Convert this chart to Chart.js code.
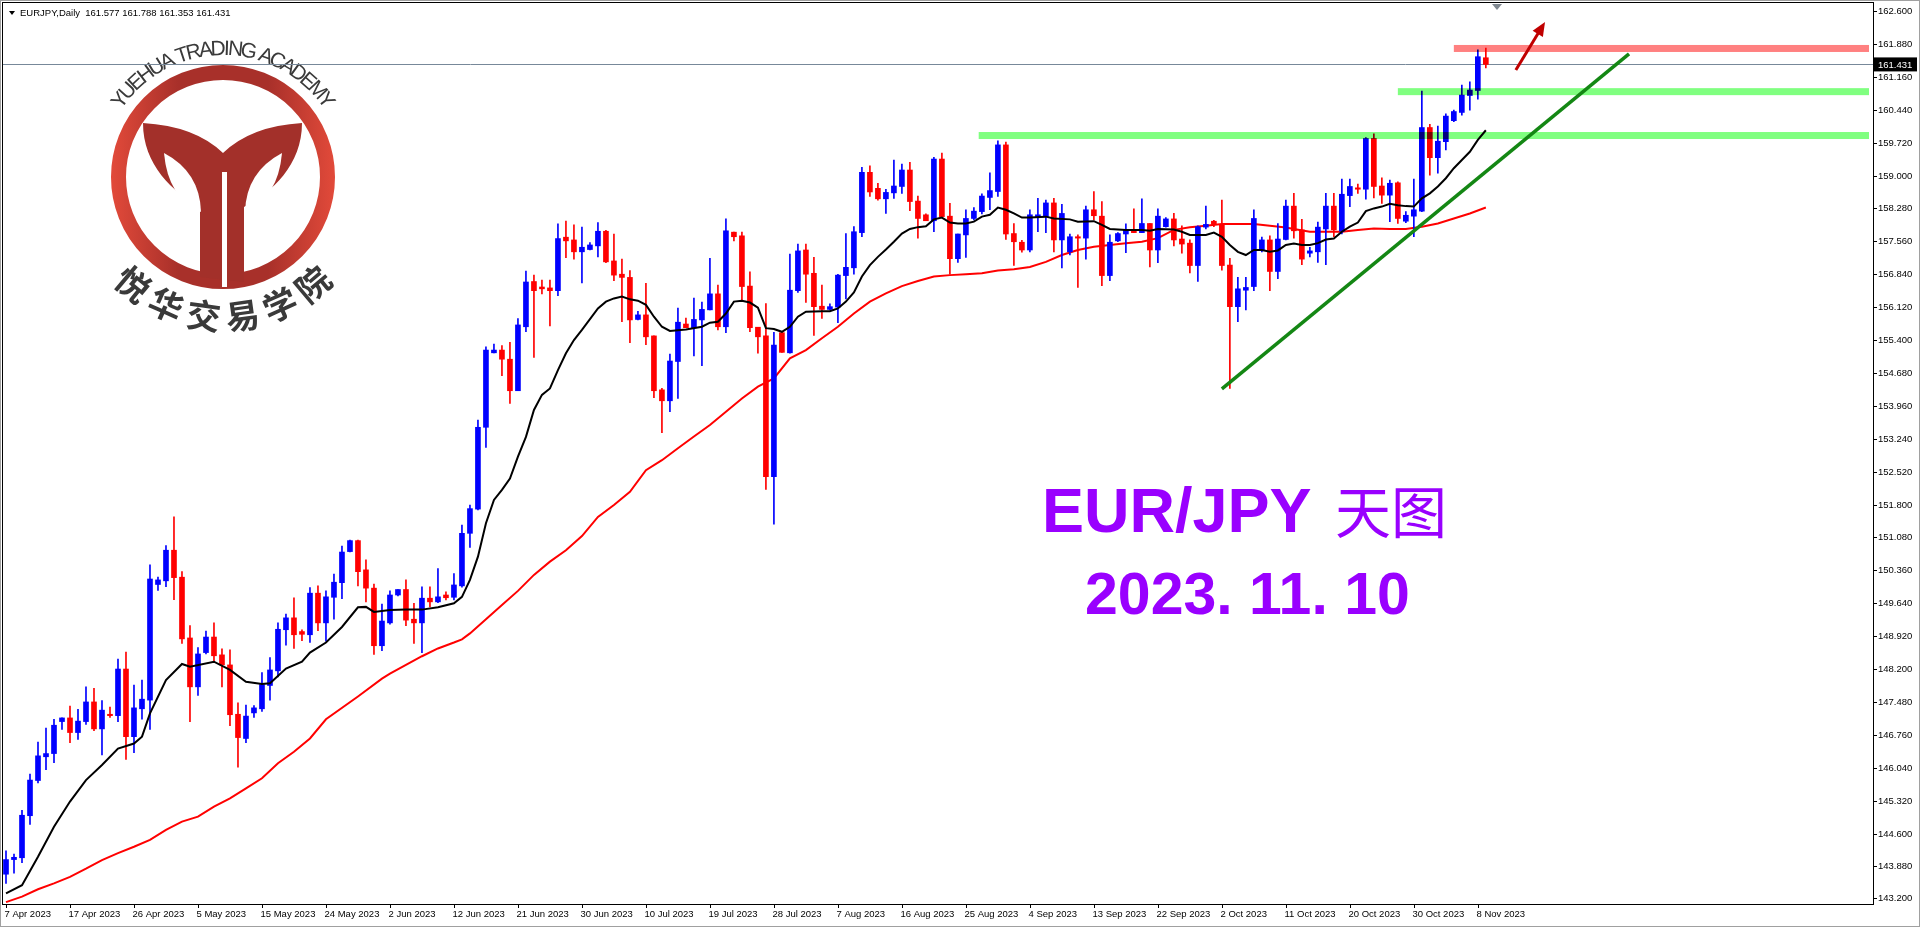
<!DOCTYPE html>
<html>
<head>
<meta charset="UTF-8">
<title>EURJPY Daily</title>
<script src="https://cdn.jsdelivr.net/npm/chart.js"></script>
<style>
  html, body { margin: 0; padding: 0; background: #fff; }
  canvas { display: block; }
</style>
</head>
<body>
<canvas id="chart" width="1920" height="927"></canvas>
<script>
// EURJPY daily candles (one bar per trading day incl. Sunday bars)
const opens = [143.71,144.03,144.07,144.99,145.76,146.28,146.35,147.05,147.13,146.81,147.05,147.48,146.89,147.21,147.18,148.20,146.72,147.33,147.52,150.05,150.13,150.80,150.21,148.88,147.81,148.56,148.90,148.51,148.29,147.21,146.68,147.24,147.33,147.84,148.16,149.06,149.32,149.02,148.95,149.86,149.21,149.77,150.09,150.77,151.01,150.37,149.97,148.71,149.21,149.82,149.94,149.29,149.21,149.75,149.67,149.82,149.77,150.02,151.17,151.70,153.49,155.12,155.18,154.98,154.29,155.69,156.68,156.56,156.54,156.48,157.65,157.59,157.33,157.38,157.46,157.78,157.13,156.84,156.77,155.85,155.95,155.49,154.31,154.07,154.93,155.75,155.67,155.84,156.06,156.41,155.69,157.76,157.68,156.58,155.68,155.49,152.41,155.56,155.12,156.48,157.37,156.86,156.14,156.07,156.12,156.81,156.98,157.75,159.07,158.72,158.49,158.62,158.76,159.12,158.44,158.14,158.01,159.36,158.11,157.18,157.70,158.06,158.21,158.52,158.65,159.67,157.73,157.54,157.37,158.10,158.10,158.40,157.59,157.33,157.66,157.63,158.25,158.11,156.81,157.57,157.72,157.81,157.75,157.95,157.37,157.88,158.05,157.61,157.52,157.03,157.87,158.00,157.93,157.04,156.13,156.49,156.57,157.37,157.59,156.90,157.60,158.33,157.81,157.30,157.33,157.83,158.33,157.78,158.56,158.73,158.70,159.81,158.77,158.57,158.84,158.00,158.11,158.22,160.05,159.39,159.74,160.20,160.38,160.75,160.86,161.577];
const highs = [144.22,144.15,145.11,145.90,146.60,146.91,147.10,147.13,147.39,147.32,147.81,147.78,147.51,147.37,148.42,148.57,147.85,147.96,150.48,150.21,150.90,151.53,150.33,149.15,148.67,149.03,149.21,148.64,148.62,147.46,147.41,147.40,148.12,148.45,149.21,149.40,149.76,149.06,149.98,150.02,149.91,150.28,150.89,151.02,151.02,150.59,150.06,149.62,149.91,149.94,150.15,149.64,150.00,150.00,150.40,149.89,150.29,151.35,151.79,153.65,155.25,155.31,155.28,155.35,155.87,156.91,156.82,156.71,156.71,157.94,158.00,157.92,157.87,157.53,157.97,157.80,157.72,157.17,156.92,156.03,156.64,155.49,154.34,155.09,156.10,155.88,156.32,156.23,157.19,156.60,158.05,157.76,157.76,156.89,155.68,156.20,155.57,155.58,157.28,157.50,157.50,157.21,156.60,156.19,156.84,157.73,157.88,159.18,159.21,158.83,158.70,159.34,159.25,159.29,158.55,158.16,159.40,159.49,158.39,157.72,158.25,158.30,158.60,159.06,159.76,159.73,157.95,157.58,158.25,158.50,158.46,158.50,158.37,157.72,157.70,158.33,158.65,158.43,157.70,157.75,157.94,158.27,158.49,157.95,158.27,158.08,158.17,157.90,157.59,157.90,158.33,158.02,158.46,157.19,156.77,156.77,158.25,157.65,157.68,157.95,158.46,158.61,158.04,157.43,157.98,158.61,158.61,158.92,158.92,158.81,159.83,159.91,158.95,158.90,158.86,158.21,158.92,160.85,160.12,160.08,160.35,160.43,160.98,161.05,161.75,161.788];
const lows = [143.51,143.73,143.96,144.80,145.71,146.00,146.15,146.88,146.59,146.66,146.99,146.85,146.32,147.14,147.05,146.22,146.37,147.10,146.88,149.92,150.00,149.72,148.76,147.05,147.62,148.53,148.35,147.81,146.96,146.05,146.59,147.14,147.27,147.52,148.03,148.72,148.65,148.82,148.78,149.04,148.81,149.29,149.74,150.76,150.02,149.67,148.52,148.60,149.18,149.80,149.15,148.76,148.56,149.56,149.65,149.71,149.71,149.99,150.86,151.68,153.05,155.12,154.62,154.01,154.29,155.58,155.02,156.41,155.71,156.37,157.20,157.17,156.65,157.37,157.22,157.09,156.70,155.80,155.34,155.84,155.30,154.14,153.37,153.83,154.12,155.67,155.05,154.84,156.06,155.62,155.56,157.57,156.27,155.58,155.11,152.13,151.37,155.13,155.11,156.44,156.22,155.50,155.87,156.06,155.78,156.30,156.84,157.66,158.54,158.46,158.17,158.50,158.61,158.23,157.63,158.01,157.77,158.10,156.84,157.10,157.21,158.03,158.16,158.25,158.54,157.60,157.03,157.32,157.33,157.77,157.75,157.33,156.98,157.26,156.55,157.17,158.03,156.59,156.70,157.55,157.31,157.75,157.75,157.00,157.09,157.87,157.46,157.30,156.87,156.68,157.83,157.88,156.93,154.34,155.80,156.06,156.48,157.33,156.48,156.74,157.59,157.63,157.05,157.22,157.10,157.05,157.66,157.72,158.32,158.61,158.48,158.51,158.39,157.99,157.95,157.97,157.66,158.21,159.01,159.05,159.56,160.18,160.32,160.43,160.67,161.353];
const closes = [144.03,144.08,145.00,145.77,146.30,146.35,146.97,147.13,146.81,147.06,147.48,146.89,147.30,147.18,148.20,146.72,147.35,147.54,150.17,150.15,150.80,150.20,148.86,147.81,148.53,148.90,148.49,148.29,147.20,146.70,147.17,147.35,147.86,148.18,149.07,149.32,148.95,148.96,149.86,149.21,149.78,150.10,150.76,151.01,150.33,149.97,148.71,149.25,149.82,149.94,149.27,149.21,149.75,149.67,149.78,149.76,150.04,151.17,151.71,153.49,155.18,155.18,154.98,154.29,155.73,156.67,156.48,156.52,156.48,157.62,157.57,157.33,157.43,157.48,157.78,157.11,156.82,156.77,155.84,155.95,155.47,154.29,154.07,154.94,155.79,155.67,155.85,156.07,156.41,155.69,157.79,157.66,156.57,155.67,155.47,152.41,155.29,155.13,156.49,157.35,156.84,156.13,156.07,156.13,156.82,156.99,157.77,159.07,158.64,158.49,158.63,158.77,159.12,158.43,158.06,158.01,159.36,158.10,157.18,157.72,158.06,158.22,158.55,158.67,159.67,157.72,157.55,157.37,158.14,158.14,158.40,157.59,158.17,157.66,157.63,158.25,158.12,156.81,157.54,157.73,157.81,157.75,157.95,157.37,158.11,158.05,157.59,157.50,157.03,157.88,157.93,157.93,157.03,156.13,156.52,156.55,158.06,157.59,156.90,157.61,158.33,157.79,157.17,157.35,157.87,158.33,157.81,158.59,158.76,158.70,159.81,158.76,158.57,158.83,158.06,158.13,158.25,160.05,159.39,159.75,160.30,160.40,160.76,160.87,161.60,161.431];

// tick labels
const dateLabels = ['7 Apr 2023','17 Apr 2023','26 Apr 2023','5 May 2023','15 May 2023','24 May 2023','2 Jun 2023','12 Jun 2023','21 Jun 2023','30 Jun 2023','10 Jul 2023','19 Jul 2023','28 Jul 2023','7 Aug 2023','16 Aug 2023','25 Aug 2023','4 Sep 2023','13 Sep 2023','22 Sep 2023','2 Oct 2023','11 Oct 2023','20 Oct 2023','30 Oct 2023','8 Nov 2023'];
const barsPerLabel = 8;
const priceTicks = [162.6,161.88,161.16,160.44,159.72,159.0,158.28,157.56,156.84,156.12,155.4,154.68,153.96,153.24,152.52,151.8,151.08,150.36,149.64,148.92,148.2,147.48,146.76,146.04,145.32,144.6,143.88,143.2];

// moving averages: [bar, value]
const maBlack = [[0,143.29],[2,143.47],[4,144.09],[6,144.75],[8,145.30],[10,145.77],[12,146.10],[14,146.46],[16,146.57],[17,146.72],[18,147.23],[20,147.96],[22,148.31],[23,148.25],[26,148.36],[28,148.18],[30,147.92],[32,147.87],[33,147.89],[35,148.21],[37,148.36],[38,148.56],[40,148.78],[42,149.12],[44,149.55],[45,149.56],[46,149.45],[48,149.49],[50,149.50],[52,149.50],[54,149.55],[56,149.64],[57,149.78],[58,150.15],[59,150.66],[60,151.39],[61,151.90],[62,152.12],[63,152.37],[64,152.85],[65,153.28],[66,153.87],[67,154.20],[68,154.34],[69,154.74],[70,155.11],[71,155.40],[72,155.62],[74,156.09],[75,156.24],[76,156.31],[77,156.35],[78,156.29],[79,156.26],[80,156.17],[81,155.91],[82,155.69],[83,155.60],[85,155.63],[87,155.69],[88,155.78],[89,155.80],[90,155.98],[91,156.24],[92,156.26],[93,156.22],[94,156.11],[95,155.66],[96,155.64],[97,155.58],[98,155.69],[99,155.91],[100,156.02],[102,156.03],[103,156.03],[104,156.09],[105,156.24],[106,156.44],[107,156.79],[108,157.04],[109,157.22],[110,157.38],[111,157.55],[112,157.73],[113,157.83],[114,157.87],[115,157.89],[116,158.04],[117,158.08],[118,157.97],[119,157.95],[120,157.95],[121,157.99],[122,158.10],[123,158.14],[124,158.30],[125,158.25],[126,158.17],[127,158.08],[128,158.08],[130,158.10],[131,158.06],[133,158.04],[134,157.99],[136,158.00],[137,157.92],[138,157.83],[140,157.81],[142,157.81],[143,157.79],[144,157.83],[146,157.82],[147,157.77],[148,157.70],[150,157.70],[151,157.75],[152,157.66],[153,157.48],[154,157.33],[155,157.26],[156,157.37],[157,157.37],[158,157.33],[159,157.36],[160,157.48],[161,157.51],[162,157.48],[163,157.48],[164,157.52],[165,157.60],[166,157.62],[167,157.77],[168,157.88],[169,157.97],[170,158.22],[171,158.28],[172,158.32],[173,158.38],[174,158.35],[175,158.33],[176,158.32],[177,158.50],[178,158.61],[179,158.76],[180,158.94],[181,159.16],[182,159.34],[183,159.52],[184,159.78],[185,159.99]];
const maRed = [[0,143.10],[2,143.22],[4,143.38],[6,143.51],[8,143.65],[10,143.83],[12,144.02],[14,144.17],[16,144.31],[18,144.46],[20,144.68],[22,144.86],[24,144.97],[26,145.19],[28,145.37],[30,145.59],[32,145.81],[34,146.14],[36,146.39],[38,146.68],[40,147.10],[44,147.60],[47,147.99],[48,148.10],[50,148.29],[52,148.48],[54,148.65],[56,148.78],[57,148.85],[58,148.98],[60,149.29],[62,149.60],[64,149.91],[66,150.26],[68,150.55],[70,150.80],[72,151.11],[74,151.53],[76,151.79],[78,152.08],[80,152.55],[82,152.77],[84,153.03],[86,153.29],[88,153.54],[90,153.83],[92,154.12],[94,154.38],[96,154.56],[98,155.00],[100,155.18],[102,155.44],[104,155.69],[106,155.98],[108,156.24],[110,156.42],[112,156.58],[114,156.69],[116,156.79],[118,156.82],[120,156.84],[122,156.86],[124,156.92],[126,156.95],[128,157.00],[130,157.11],[132,157.26],[134,157.37],[136,157.44],[138,157.48],[140,157.52],[142,157.55],[144,157.63],[146,157.81],[148,157.87],[150,157.90],[152,157.94],[154,157.94],[156,157.94],[158,157.90],[160,157.86],[161,157.83],[163,157.77],[165,157.77],[167,157.77],[169,157.81],[171,157.84],[173,157.83],[175,157.83],[177,157.88],[179,157.95],[181,158.06],[183,158.17],[185,158.30]];

// drawn objects: levels [price, fromBar, colour], trend line, arrow
const levels = [[161.78, 181, '#ff8080'], [160.835, 174, '#80ff80'], [159.875, 121.6, '#80ff80']];
const trendLine = [[152, 154.33], [202.9, 161.66]];
const arrowLine = [[188.75, 161.31], [192.4, 162.36]];
const lastPrice = 161.431;

const nBars = closes.length;
const up = i => closes[i] >= opens[i];
const colors = closes.map((c, i) => up(i) ? '#0000ff' : '#ff0000');
const axisFont = '9.5px "Liberation Sans", Arial, sans-serif';

const chartOverlay = {
  id: 'chartOverlay',
  beforeDatasetsDraw(chart) {
    const ctx = chart.ctx, y = chart.scales.y, a = chart.chartArea;
    ctx.save();
    drawLogo(ctx);
    // last price line
    const py = Math.round(y.getPixelForValue(lastPrice)) + 0.5;
    ctx.strokeStyle = '#778899';
    ctx.lineWidth = 1;
    ctx.beginPath(); ctx.moveTo(a.left, py); ctx.lineTo(a.right, py); ctx.stroke();
    ctx.restore();
  },
  afterDatasetsDraw(chart) {
    const ctx = chart.ctx, x = chart.scales.x, y = chart.scales.y, a = chart.chartArea;
    ctx.save();
    ctx.beginPath(); ctx.rect(a.left, a.top, a.right - a.left, a.bottom - a.top); ctx.clip();
    // levels
    ctx.globalCompositeOperation = 'multiply';
    levels.forEach(([p, from, col]) => {
      ctx.fillStyle = col;
      const yy = y.getPixelForValue(p);
      ctx.fillRect(x.getPixelForValue(from), yy - 3.5, a.right - 4 - x.getPixelForValue(from), 7);
    });
    ctx.globalCompositeOperation = 'source-over';
    // trend line
    ctx.strokeStyle = 'rgb(20,135,20)';
    ctx.lineWidth = 3.5;
    ctx.beginPath();
    ctx.moveTo(x.getPixelForValue(trendLine[0][0]), y.getPixelForValue(trendLine[0][1]));
    ctx.lineTo(x.getPixelForValue(trendLine[1][0]), y.getPixelForValue(trendLine[1][1]));
    ctx.stroke();
    // arrow
    const ax0 = x.getPixelForValue(arrowLine[0][0]), ay0 = y.getPixelForValue(arrowLine[0][1]);
    const ax1 = x.getPixelForValue(arrowLine[1][0]), ay1 = y.getPixelForValue(arrowLine[1][1]);
    const ang = Math.atan2(ay1 - ay0, ax1 - ax0);
    ctx.strokeStyle = '#c00000'; ctx.fillStyle = '#c00000'; ctx.lineWidth = 3;
    ctx.beginPath(); ctx.moveTo(ax0, ay0);
    ctx.lineTo(ax1 - 10 * Math.cos(ang), ay1 - 10 * Math.sin(ang)); ctx.stroke();
    ctx.beginPath(); ctx.moveTo(ax1, ay1);
    ctx.lineTo(ax1 - 14 * Math.cos(ang) + 6 * Math.sin(ang), ay1 - 14 * Math.sin(ang) - 6 * Math.cos(ang));
    ctx.lineTo(ax1 - 14 * Math.cos(ang) - 6 * Math.sin(ang), ay1 - 14 * Math.sin(ang) + 6 * Math.cos(ang));
    ctx.closePath(); ctx.fill();
    ctx.restore();
  },
  afterDraw(chart) {
    const ctx = chart.ctx, x = chart.scales.x, y = chart.scales.y, a = chart.chartArea;
    ctx.save();
    // frames
    ctx.strokeStyle = '#a0a0a0'; ctx.lineWidth = 1;
    ctx.strokeRect(0.5, 0.5, 1919, 926);
    ctx.strokeStyle = '#000';
    ctx.strokeRect(a.left - 0.5, a.top - 0.5, a.right - a.left + 1, a.bottom - a.top + 1);
    ctx.font = axisFont;
    ctx.fillStyle = '#000'; ctx.textAlign = 'left'; ctx.textBaseline = 'middle';
    // price ticks and labels
    priceTicks.forEach(v => {
      const py = Math.round(y.getPixelForValue(v)) + 0.5;
      ctx.beginPath(); ctx.moveTo(a.right, py); ctx.lineTo(a.right + 4, py); ctx.stroke();
      ctx.fillText(v.toFixed(3), a.right + 5, py);
    });
    // date ticks and labels
    dateLabels.forEach((lab, k) => {
      const px = Math.round(x.getPixelForValue(k * barsPerLabel)) + 0.5;
      ctx.beginPath(); ctx.moveTo(px, a.bottom); ctx.lineTo(px, a.bottom + 4); ctx.stroke();
      ctx.fillText(lab, px - 2, a.bottom + 10);
    });
    // header
    ctx.beginPath(); ctx.moveTo(9, 11); ctx.lineTo(15, 11); ctx.lineTo(12, 15); ctx.closePath(); ctx.fill();
    ctx.fillText('EURJPY,Daily  161.577 161.788 161.353 161.431', 20, 13);
    // last price box
    const py = y.getPixelForValue(lastPrice);
    ctx.fillStyle = '#000';
    ctx.fillRect(a.right + 1, py - 7, 43, 14);
    ctx.fillStyle = '#fff';
    ctx.fillText(lastPrice.toFixed(3), a.right + 5, py + 0.5);
    // shift marker
    ctx.fillStyle = '#808890';
    ctx.beginPath(); ctx.moveTo(1492, 4); ctx.lineTo(1502, 4); ctx.lineTo(1497, 10); ctx.closePath(); ctx.fill();
    // title text
    ctx.fillStyle = '#9900ff';
    ctx.textBaseline = 'alphabetic';
    ctx.font = 'bold 63px "Liberation Sans", Arial, sans-serif';
    ctx.fillText('EUR/JPY', 1042, 532);
    ctx.font = '56px "Noto Sans CJK SC", sans-serif';
    ctx.textBaseline = 'middle';
    ctx.fillText('天图', 1335, 512);
    ctx.textBaseline = 'alphabetic';
    ctx.font = 'bold 59px "Liberation Sans", Arial, sans-serif';
    ctx.fillText('2023. 11. 10', 1085, 614);
    ctx.restore();
  }
};

function drawLogo(ctx) {
  const cx = 223, cy = 177;
  ctx.save();
  const g = ctx.createLinearGradient(cx - 112, 0, cx + 112, 0);
  g.addColorStop(0, '#e24a3a'); g.addColorStop(0.3, '#a8302a'); g.addColorStop(0.7, '#a8302a'); g.addColorStop(1, '#e24a3a');
  ctx.strokeStyle = g; ctx.lineWidth = 15;
  ctx.beginPath(); ctx.arc(cx, cy, 104.5, 0, Math.PI * 2); ctx.stroke();
  // Y shape
  ctx.fillStyle = '#a3302a';
  ctx.beginPath();
  ctx.moveTo(143, 123);
  ctx.quadraticCurveTo(195, 126, 223, 153);
  ctx.quadraticCurveTo(251, 126, 302, 123);
  ctx.bezierCurveTo(302, 165, 272, 192, 244, 207);
  ctx.lineTo(244, 282); ctx.lineTo(200, 277); ctx.lineTo(200, 207);
  ctx.bezierCurveTo(173, 192, 143, 165, 143, 123);
  ctx.fill();
  ctx.fillStyle = '#fff';
  ctx.beginPath(); ctx.moveTo(164, 153); ctx.quadraticCurveTo(168, 198, 201, 212); ctx.quadraticCurveTo(200, 172, 164, 153); ctx.fill();
  ctx.beginPath(); ctx.moveTo(282, 153); ctx.quadraticCurveTo(278, 198, 245, 212); ctx.quadraticCurveTo(246, 172, 282, 153); ctx.fill();
  ctx.fillRect(222, 172, 5, 115);
  // arched texts
  ctx.fillStyle = '#3a3a3a';
  ctx.textAlign = 'center'; ctx.textBaseline = 'alphabetic';
  ctx.font = '21px "Liberation Sans", Arial, sans-serif';
  const top = 'YUEHUA TRADING ACADEMY';
  const ws = [...top].map(ch => ctx.measureText(ch).width);
  const total = ws.reduce((s, w) => s + w, 0);
  const a0 = -146 * Math.PI / 180, a1 = -34 * Math.PI / 180;
  let acc = 0;
  [...top].forEach((ch, k) => {
    const t = a0 + (a1 - a0) * (acc + ws[k] / 2) / total;
    acc += ws[k];
    ctx.save();
    ctx.translate(cx + 122 * Math.cos(t), cy + 122 * Math.sin(t));
    ctx.rotate(t + Math.PI / 2);
    ctx.fillText(ch, 0, 0);
    ctx.restore();
  });
  ctx.font = 'bold 34px "Noto Sans CJK SC", sans-serif';
  ctx.textBaseline = 'middle';
  const bottom = '悦华交易学院';
  [...bottom].forEach((ch, k) => {
    const t = (130 - k * 16) * Math.PI / 180;
    ctx.save();
    ctx.translate(cx + 140 * Math.cos(t), cy + 140 * Math.sin(t));
    ctx.rotate(t - Math.PI / 2);
    ctx.fillText(ch, 0, 0);
    ctx.restore();
  });
  ctx.restore();
}

const idx = [...Array(nBars).keys()];
new Chart(document.getElementById('chart'), {
  type: 'bar',
  data: {
    datasets: [
      { type: 'line', data: maRed.map(([i, v]) => ({ x: i, y: v })), borderColor: '#ff0000', borderWidth: 2, pointRadius: 0, order: 3 },
      { data: idx.map(i => ({ x: i, y: [lows[i], highs[i]] })), backgroundColor: colors, barThickness: 1, grouped: false, order: 2 },
      { data: idx.map(i => ({ x: i, y: [opens[i], closes[i]] })), backgroundColor: colors, barThickness: 5, minBarLength: 1, grouped: false, order: 1 },
      { type: 'line', data: maBlack.map(([i, v]) => ({ x: i, y: v })), borderColor: '#000', borderWidth: 2, pointRadius: 0, order: 0 }
    ]
  },
  options: {
    responsive: false,
    animation: false,
    devicePixelRatio: 1,
    layout: { padding: { left: 3, top: 3, right: 0, bottom: 0 } },
    plugins: { legend: { display: false }, tooltip: { enabled: false } },
    scales: {
      x: {
        type: 'linear', min: -0.375, max: 233.4, offset: false,
        ticks: { display: false }, grid: { display: false }, border: { display: false },
        afterFit: s => { s.height = 23; }
      },
      y: {
        position: 'right', min: 143.058, max: 162.775,
        ticks: { display: false },
        grid: { display: false },
        border: { display: false },
        afterFit: s => { s.width = 47; }
      }
    }
  },
  plugins: [chartOverlay]
});
</script>
</body>
</html>
